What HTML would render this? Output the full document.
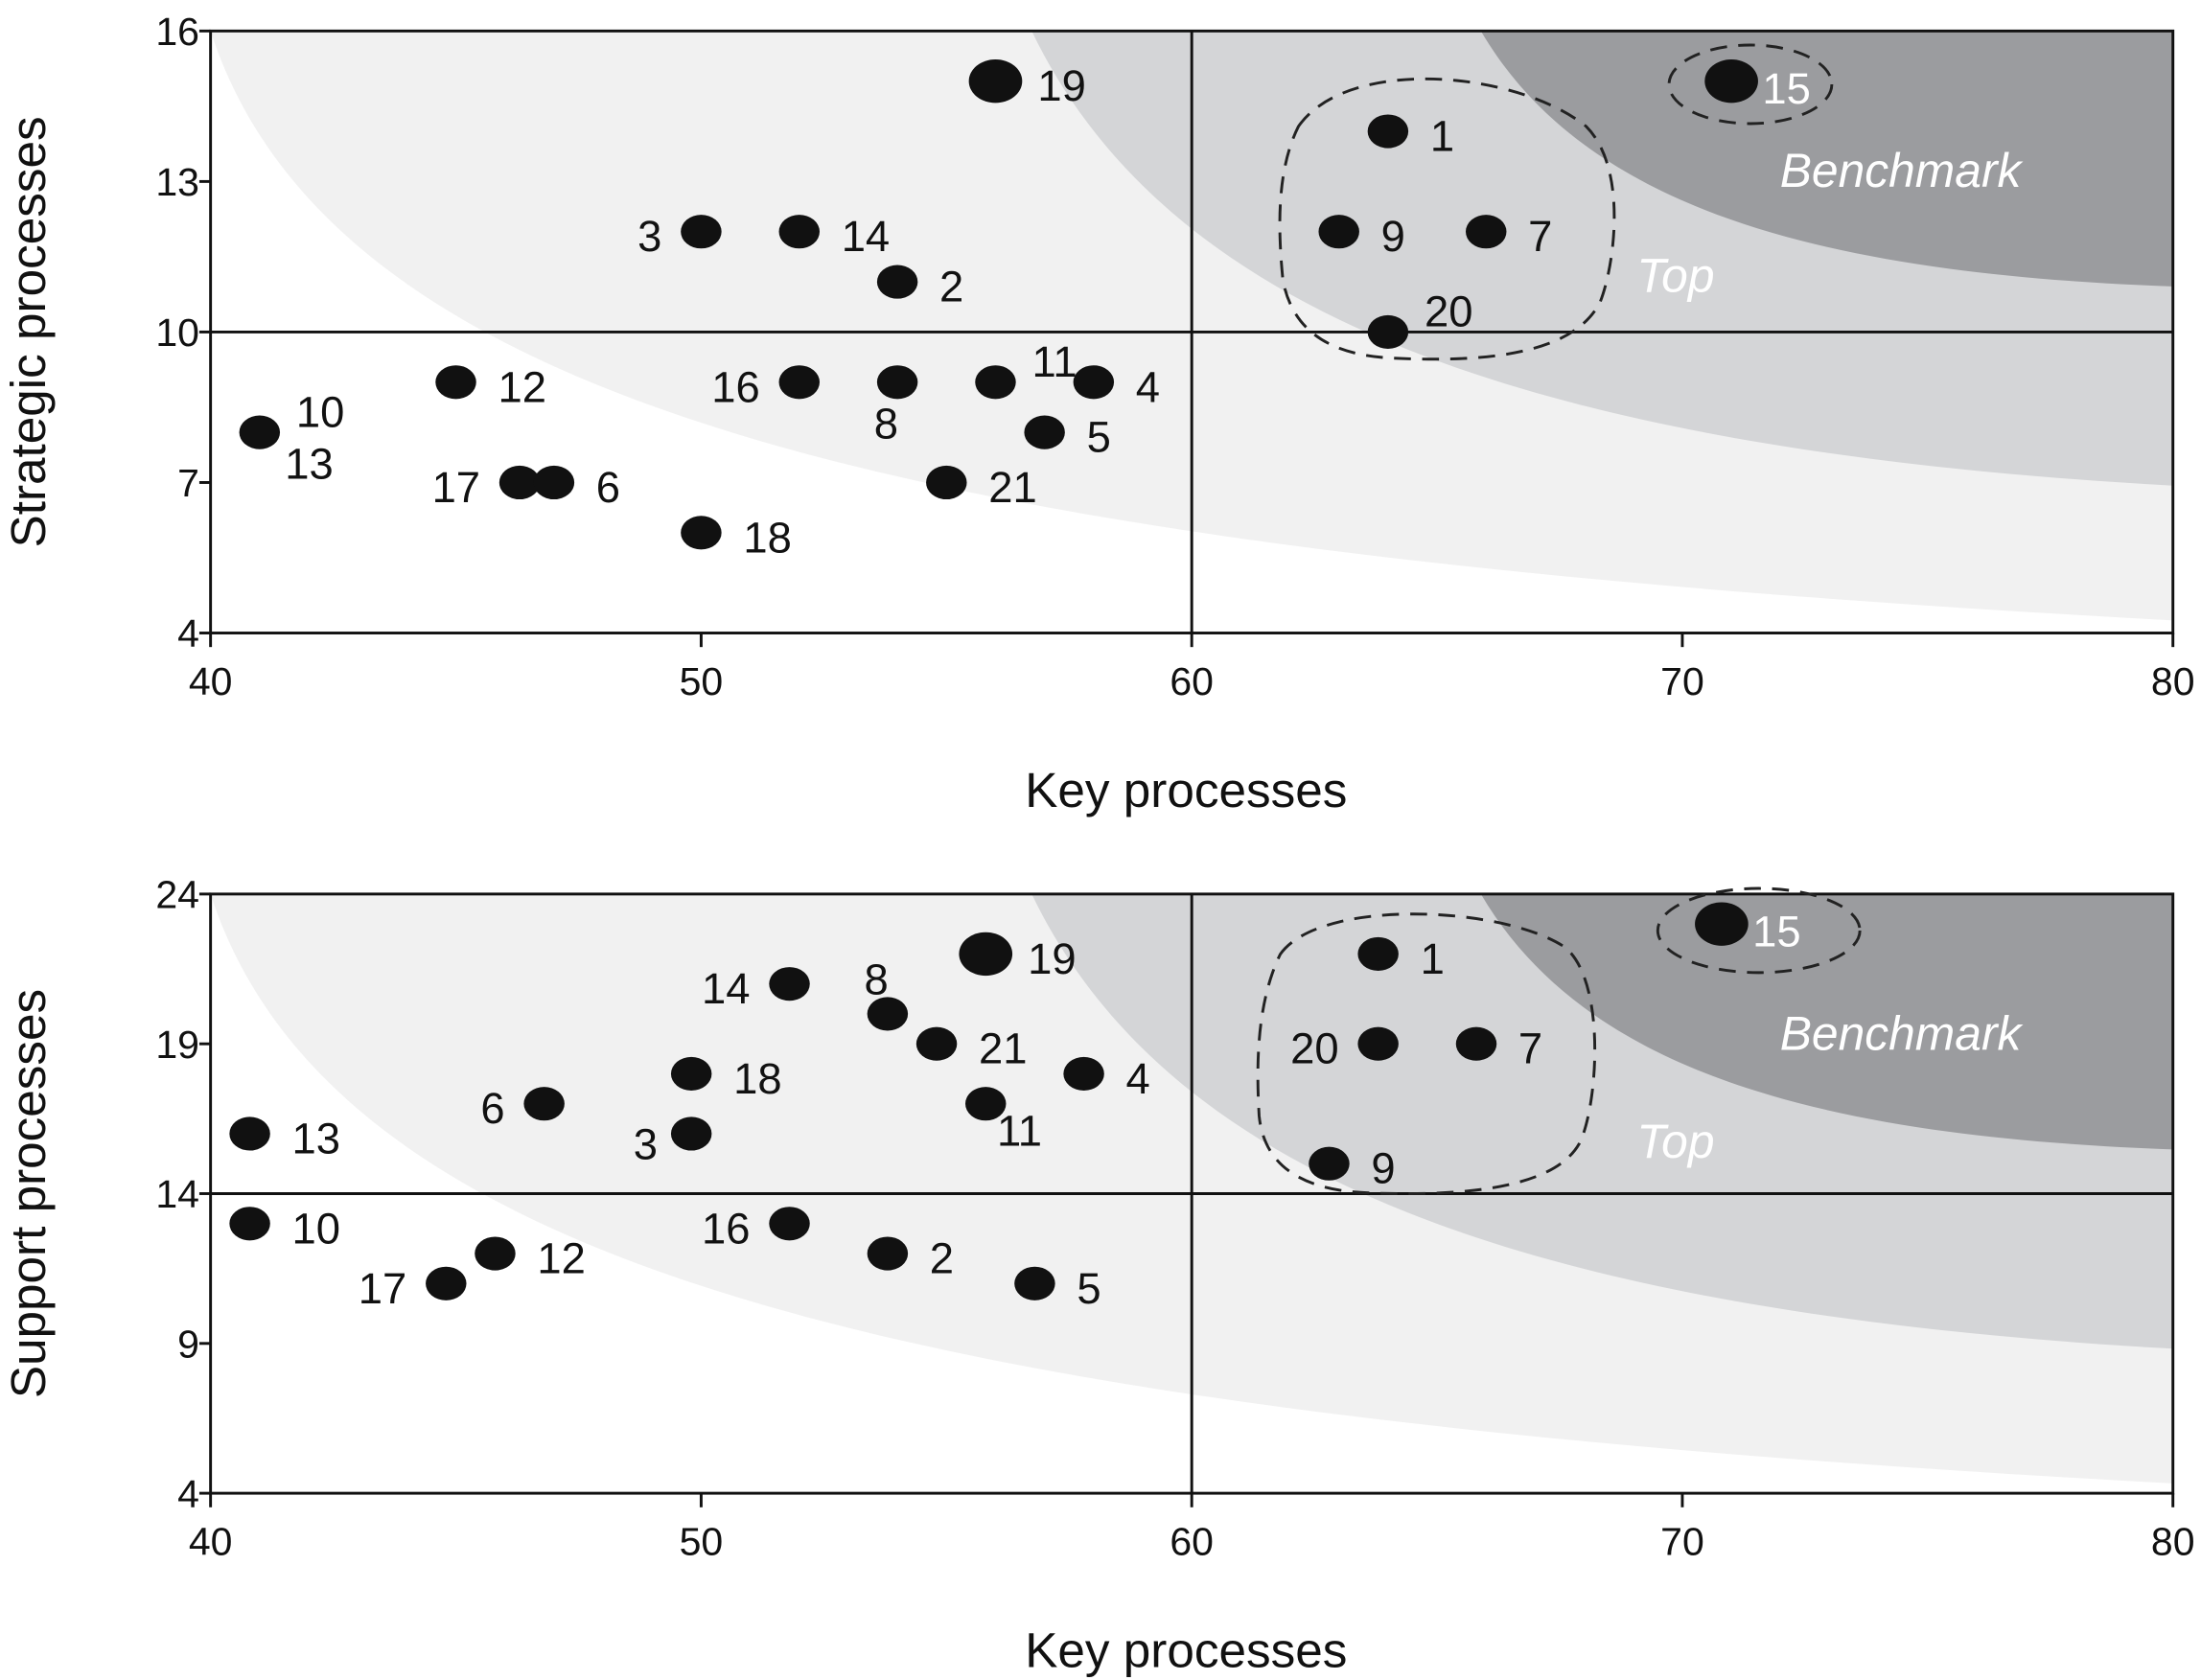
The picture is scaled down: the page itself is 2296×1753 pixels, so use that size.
<!DOCTYPE html>
<html><head><meta charset="utf-8">
<style>
html,body{margin:0;padding:0;background:#fff;}
svg{display:block;font-family:"Liberation Sans",Arial,sans-serif;}
</style></head>
<body>
<svg id="chart" width="2296" height="1753" viewBox="0 0 1568 1197" xmlns="http://www.w3.org/2000/svg">
<defs>
<clipPath id="clipTop"><rect x="150" y="22" width="1398" height="429"/></clipPath>
<clipPath id="clipBot"><rect x="150" y="637" width="1398" height="427"/></clipPath>
</defs>
</svg>
<script>
// ---- data ----
const xTicks = [40, 50, 60, 70, 80];
const topYTicks = [4, 7, 10, 13, 16];
const botYTicks = [4, 9, 14, 19, 24];
const topLabels = ["19","1","15","3","14","2","9","7","20","12","16","8","11","4","10","5","17","6","21","18"];
const topX = [56, 64, 71, 50, 52, 54, 63, 66, 64, 45, 52, 54, 56, 58, 41, 57, 46.3, 47, 55, 50];
const topY = [15, 14, 15, 12, 12, 11, 12, 12, 10, 9, 9, 9, 9, 9, 8, 8, 7, 7, 7, 6];
const topPos = ["r","r","w","l","r","r","r","r","ur","r","l","b","ur","r","ur","r","l","r","r","r"];
const botLabels = ["1","15","14","8","19","20","7","21","18","4","6","11","13","3","9","10","16","12","2","17","5"];
const botX = [63.8, 70.8, 51.8, 53.8, 55.8, 63.8, 65.8, 54.8, 49.8, 57.8, 46.8, 55.8, 40.8, 49.8, 62.8, 40.8, 51.8, 45.8, 53.8, 44.8, 56.8];
const botY = [22, 23, 21, 20, 22, 19, 19, 19, 18, 18, 17, 17, 16, 16, 15, 13, 13, 12, 12, 11, 11];
const botPos = ["r","w","l","al","r","l","r","r","r","r","l","br","r","lb","r","r","l","r","r","l","r"];
const bigPoints = ["19","15"];

const NS = "http://www.w3.org/2000/svg";
const svg = document.getElementById("chart");
function mk(tag, attrs, parent) {
  const e = document.createElementNS(NS, tag);
  for (const k in attrs) e.setAttribute(k, attrs[k]);
  (parent || svg).appendChild(e);
  return e;
}

function panel(opt) {
  const g = mk("g", {});
  
  
  const x0 = 150, x1 = 1548, y0 = opt.top, y1 = opt.top + opt.h;
  const xs = v => x0 + (v - 40) / 40 * (x1 - x0);
  const ys = v => y1 - (v - opt.ymin) / (opt.ymax - opt.ymin) * (y1 - y0);
  const dy = opt.top - 22;
  const outer = mk("g", {"clip-path": "url(#" + opt.clip + ")"}, g);
  
  
  const sh = mk("g", {transform: "translate(0," + dy + ")"}, outer);
  
  
  const z1 = mk("path", {d: "M150,22 C240,300 680,395 1548,442 L1548,22 Z", fill: "#f1f1f1"}, sh);
  
  
  const z2 = mk("path", {d: "M735,22 C830,220 1080,320 1548,346 L1548,22 Z", fill: "#d4d5d7"}, sh);
  
  
  const z3 = mk("path", {d: "M1055,22 C1130,150 1300,195 1548,204 L1548,22 Z", fill: "#9b9c9f"}, sh);
  
  
  const fr = mk("rect", {x: x0, y: y0, width: x1 - x0, height: y1 - y0, fill: "none", stroke: "#111", "stroke-width": 2}, g);
  
  
  const vl = mk("line", {x1: xs(60), x2: xs(60), y1: y0, y2: y1, stroke: "#111", "stroke-width": 2}, g);
  
  
  const hl = mk("line", {x1: x0, x2: x1, y1: ys(opt.hline), y2: ys(opt.hline), stroke: "#111", "stroke-width": 2}, g);
  
  
  xTicks.forEach(t => {
    const tl = mk("line", {x1: xs(t), x2: xs(t), y1: y1, y2: y1 + 10, stroke: "#111", "stroke-width": 2}, g);
    
    
    const tx = mk("text", {x: xs(t), y: y1 + 44, "text-anchor": "middle", "font-size": 28, fill: "#111"}, g);
    tx.textContent = t;
    
    
  });
  opt.yticks.forEach(t => {
    const tl = mk("line", {x1: x0 - 8, x2: x0, y1: ys(t), y2: ys(t), stroke: "#111", "stroke-width": 2}, g);
    
    
    const tx = mk("text", {x: x0 - 8, y: ys(t) + 10, "text-anchor": "end", "font-size": 28, fill: "#111"}, g);
    tx.textContent = t;
    
    
  });
  const xt = mk("text", {x: 845, y: y1 + 124, "text-anchor": "middle", "font-size": 35, fill: "#111"}, g);
  xt.textContent = "Key processes";
  
  
  const cy = (y0 + y1) / 2;
  const yt = mk("text", {x: 32, y: cy, "text-anchor": "middle", "font-size": 35, fill: "#111", transform: "rotate(-90 32 " + cy + ")"}, g);
  yt.textContent = opt.ytitle;
  
  
  const en = mk("path", {d: opt.enc, fill: "none", stroke: "#222", "stroke-width": 2, "stroke-dasharray": "12,8"}, g);
  
  
  const e2 = mk("ellipse", {cx: opt.ell[0], cy: opt.ell[1], rx: opt.ell[2], ry: opt.ell[3], fill: "none", stroke: "#222", "stroke-width": 2, "stroke-dasharray": "12,8"}, g);
  
  
  const bl = mk("text", {x: 1268, y: opt.top + 111, "font-size": 34, "font-style": "italic", fill: "#fff"}, g);
  bl.textContent = "Benchmark";
  
  
  const tp = mk("text", {x: 1166, y: opt.top + opt.topLblY, "font-size": 34, "font-style": "italic", fill: "#fff"}, g);
  tp.textContent = "Top";
  
  
  opt.labels.forEach((lb, i) => {
    const px = xs(opt.xv[i]), py = ys(opt.yv[i]);
    const big = bigPoints.includes(lb);
    const dot = mk("ellipse", {cx: px, cy: py, rx: big ? 19 : 14.5, ry: big ? 15.5 : 12, fill: "#111"}, g);
    
    
    let lx = px + 30, ly = py + 11, anchor = "start";
    const p = opt.pos[i];
    if (p === "l") { lx = px - 28; anchor = "end"; ly = py + 14; }
    if (p === "lb") { lx = px - 24; anchor = "end"; ly = py + 18; }
    if (p === "ur") { lx = px + 26; ly = py - 4; }
    if (p === "b") { lx = px - 8; ly = py + 40; anchor = "middle"; }
    if (p === "al") { lx = px - 8; ly = py - 14; anchor = "middle"; }
    if (p === "br") { lx = px + 8; ly = py + 30; }
    if (p === "w") { lx = px + 22; ly = py + 16; }
    if (p === "r") { ly = py + 14; }
    const t = mk("text", {x: lx, y: ly, "text-anchor": anchor, "font-size": 31, fill: p === "w" ? "#fff" : "#111"}, g);
    t.textContent = lb;
    
    
  });
}

panel({name: "strategic-vs-key-chart", top: 22, h: 429, ymin: 4, ymax: 16, hline: 10, yticks: topYTicks, clip: "clipTop",
  ytitle: "Strategic processes", labels: topLabels, xv: topX, yv: topY, pos: topPos,
  enc: "M925,90 C960,40 1080,50 1130,90 C1160,120 1150,190 1140,215 C1120,255 1050,258 990,255 C940,252 920,230 914,200 C910,160 910,120 925,90 Z",
  ell: [1247, 60, 58, 28], topLblY: 186});
panel({name: "support-vs-key-chart", top: 637, h: 427, ymin: 4, ymax: 24, hline: 14, yticks: botYTicks, clip: "clipBot",
  ytitle: "Support processes", labels: botLabels, xv: botX, yv: botY, pos: botPos,
  enc: "M912,680 C940,640 1070,645 1115,675 C1145,700 1138,790 1125,815 C1105,850 1030,852 975,850 C920,848 900,825 897,795 C895,760 895,715 912,680 Z",
  ell: [1253, 663, 72, 30], topLblY: 188});
const t13 = mk("text", {x: 203, y: 341, "font-size": 31, fill: "#111"});
t13.textContent = "13";


</script>
</body></html>
